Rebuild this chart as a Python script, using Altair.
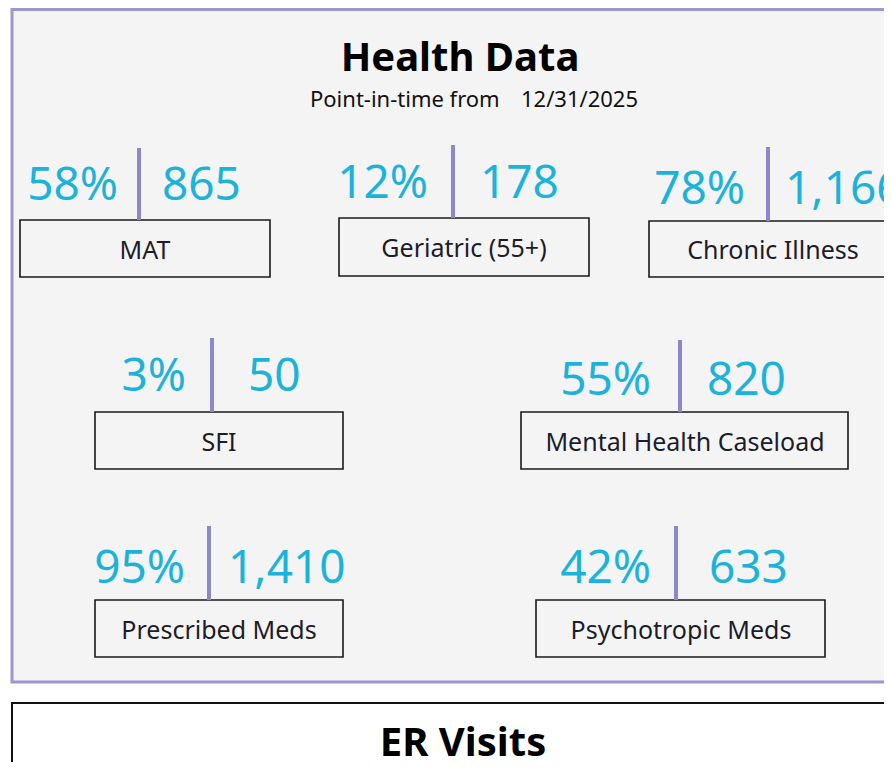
import altair as alt
import pandas as pd

# ---- data ----
labels = ["MAT", "Geriatric (55+)", "Chronic Illness", "SFI",
          "Mental Health Caseload", "Prescribed Meds", "Psychotropic Meds"]
pcts = [58, 12, 78, 3, 55, 95, 42]
counts = [865, 178, 1166, 50, 820, 1410, 633]
title_main = "Health Data"
subtitle_a = "Point-in-time from"
subtitle_b = "12/31/2025"
title_second = "ER Visits"

# ---- layout (page pixel coordinates) ----
box_x0 = [20, 339, 649, 95, 521, 95, 536]
box_x1 = [270, 589, 1000, 343, 848, 343, 825]
label_cx = [145, 464, 773, 219, 685, 219, 681]
box_y0 = [220, 218, 221, 412, 412, 600, 600]
box_y1 = [277, 276, 277, 469, 469, 657, 657]
div_x = [139, 453, 768, 212, 680, 209, 676]
div_y0 = [148, 145, 147, 338, 340, 526, 526]
pct_right = [118, 428, 745, 186, 651, 185, 651]
cnt_left = [162, 480, 785, 248, 707, 228, 709]
num_base = [200, 198, 204, 391, 395, 583, 583]

W, H = 876, 754
xs = alt.Scale(domain=[8, 8 + W], nice=False, zero=False)
ys = alt.Scale(domain=[8, 8 + H], reverse=True, nice=False, zero=False)

cards = pd.DataFrame({
    "label": labels, "pct": [p / 100 for p in pcts], "count": counts,
    "bx0": box_x0, "bx1": box_x1, "by0": box_y0, "by1": box_y1,
    "dx": div_x, "dy0": div_y0, "dy1": box_y0,
    "pr": pct_right, "cl": cnt_left, "nb": num_base, "lx": label_cx,
})
cards["ly"] = [(a + b) / 2 + 2 for a, b in zip(box_y0, box_y1)]

panels = pd.DataFrame({
    "x0": [12, 12], "x1": [1000, 1000], "y0": [9.5, 703], "y1": [682, 900],
})

FONT = "Noto Sans"
CYAN = "#1bb3da"
PURPLE = "#8d86c8"

base_c = alt.Chart(cards)

health_panel = alt.Chart(panels.iloc[[0]]).mark_rect(
    fill="#f4f4f4", stroke="#9c96d2", strokeWidth=3, clip=True
).encode(
    x=alt.X("x0:Q", scale=xs, axis=None), x2="x1:Q",
    y=alt.Y("y0:Q", scale=ys, axis=None), y2="y1:Q",
)
er_panel = alt.Chart(panels.iloc[[1]]).mark_rect(
    fill="#ffffff", stroke="#111111", strokeWidth=2, clip=True
).encode(
    x=alt.X("x0:Q", scale=xs, axis=None), x2="x1:Q",
    y=alt.Y("y0:Q", scale=ys, axis=None), y2="y1:Q",
)

titles = pd.DataFrame({
    "t": [title_main, title_second], "x": [460, 463], "y": [71, 756],
})
title_marks = alt.Chart(titles).mark_text(
    font=FONT, fontSize=40, fontWeight="bold", color="#000000",
    baseline="alphabetic", align="center"
).encode(x=alt.X("x:Q", scale=xs), y=alt.Y("y:Q", scale=ys), text="t:N")

subs = pd.DataFrame({"t": [subtitle_a, subtitle_b], "x": [310, 521], "y": [107, 107]})
sub_marks = alt.Chart(subs).mark_text(
    font=FONT, fontSize=22, color="#111111", baseline="alphabetic", align="left"
).encode(x=alt.X("x:Q", scale=xs), y=alt.Y("y:Q", scale=ys), text="t:N")

boxes = base_c.mark_rect(
    fill="#f4f4f4", stroke="#1a1a1a", strokeWidth=1.6, clip=True
).encode(
    x=alt.X("bx0:Q", scale=xs), x2="bx1:Q",
    y=alt.Y("by0:Q", scale=ys), y2="by1:Q",
)

dividers = base_c.mark_rule(color=PURPLE, strokeWidth=4).encode(
    x=alt.X("dx:Q", scale=xs),
    y=alt.Y("dy0:Q", scale=ys), y2="dy1:Q",
)

pct_text = base_c.mark_text(
    font=FONT, fontSize=46, color=CYAN, align="right", baseline="alphabetic"
).encode(
    x=alt.X("pr:Q", scale=xs), y=alt.Y("nb:Q", scale=ys),
    text=alt.Text("pct:Q", format=".0%"),
)
cnt_text = base_c.mark_text(
    font=FONT, fontSize=46, color=CYAN, align="left", baseline="alphabetic", clip=True
).encode(
    x=alt.X("cl:Q", scale=xs), y=alt.Y("nb:Q", scale=ys),
    text=alt.Text("count:Q", format=","),
)

label_text = base_c.mark_text(
    font=FONT, fontSize=25, color="#1c1c2a", align="center", baseline="middle"
).encode(
    x=alt.X("lx:Q", scale=xs), y=alt.Y("ly:Q", scale=ys),
    text="label:N",
)

chart = alt.layer(
    health_panel, er_panel, title_marks, sub_marks,
    boxes, dividers, pct_text, cnt_text, label_text
).properties(
    width=W, height=H, autosize=alt.AutoSizeParams(type="none"), padding=0,
    background="#ffffff",
).configure_view(stroke=None)

chart.save("out.html", embed_options={"renderer": "svg", "actions": False})
